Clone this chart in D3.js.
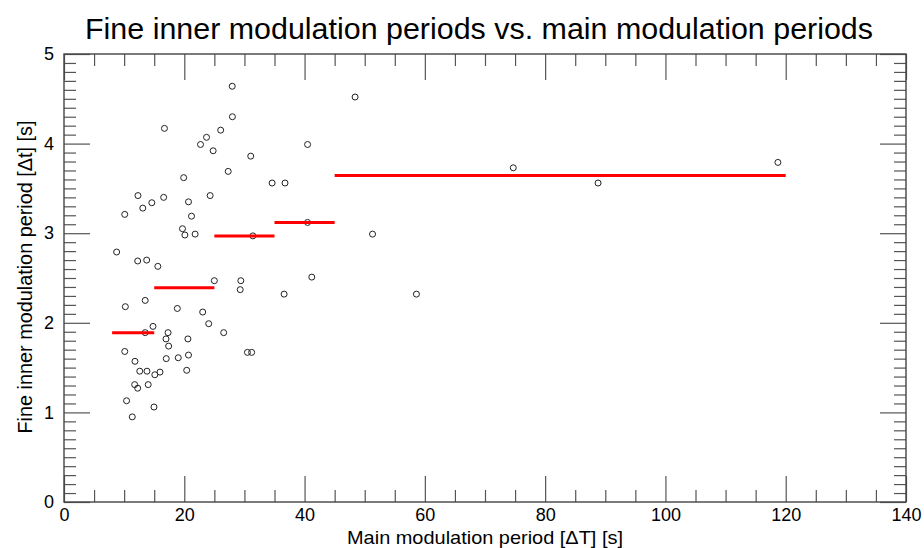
<!DOCTYPE html>
<html>
<head>
<meta charset="utf-8">
<script src="https://cdn.jsdelivr.net/npm/d3@7"></script>
<style>
  html, body { margin: 0; padding: 0; background: #fff; }
  svg { display: block; font-family: "Liberation Sans", Arial, Helvetica, sans-serif; }
</style>
</head>
<body>
<svg id="chart" width="924" height="548"></svg>
<script>
// Data: main modulation period (x) and fine inner modulation period (y)
const mainPeriod = [
  27.97, 28.0, 16.7, 26.05, 23.7, 22.7, 24.8, 31.05, 19.9, 27.3,
  12.3, 13.1, 14.6, 16.57, 20.7, 24.3, 10.1, 21.2, 19.7, 20.1,
  21.8, 31.4, 8.75, 12.25, 13.75, 15.6, 25.0, 29.4, 29.3, 13.5,
  10.2, 18.84, 23.06, 24.06, 14.8, 17.3, 26.55, 13.5, 16.96, 20.6,
  17.4, 10.1, 30.5, 31.2, 11.8, 17.0, 19.0, 20.7, 12.6, 13.8,
  15.96, 15.1, 20.4, 11.75, 12.25, 14.0, 10.4, 14.96, 11.35, 48.4,
  40.5, 34.6, 36.75, 40.5, 51.3, 41.2, 36.6, 74.7, 58.6, 88.8,
  118.7
];
const finePeriod = [
  4.64, 4.30, 4.17, 4.15, 4.07, 3.99, 3.92, 3.86, 3.62, 3.69,
  3.42, 3.28, 3.34, 3.40, 3.35, 3.42, 3.21, 3.19, 3.05, 2.98,
  2.99, 2.97, 2.79, 2.69, 2.70, 2.63, 2.47, 2.47, 2.37, 2.25,
  2.18, 2.16, 2.12, 1.99, 1.96, 1.89, 1.89, 1.89, 1.82, 1.82,
  1.74, 1.68, 1.67, 1.67, 1.57, 1.60, 1.61, 1.64, 1.46, 1.46,
  1.45, 1.42, 1.47, 1.31, 1.27, 1.31, 1.13, 1.06, 0.95, 4.52,
  3.99, 3.56, 3.56, 3.12, 2.99, 2.51, 2.32, 3.73, 2.32, 3.56,
  3.79
];
// Binned averages (red horizontal segments)
const binStart = [8, 15, 25, 35, 45];
const binEnd   = [15, 25, 35, 45, 120];
const binMean  = [1.89, 2.39, 2.97, 3.12, 3.645];

const xMajorTicks = [0, 20, 40, 60, 80, 100, 120, 140];
const yMajorTicks = [0, 1, 2, 3, 4, 5];

const titleText = "Fine inner modulation periods vs. main modulation periods";
const xLabelText = "Main modulation period [\u0394T] [s]";
const yLabelText = "Fine inner modulation period [\u0394t] [s]";

const svg = d3.select("#chart");
const L = 64, R = 906, T = 54, B = 502;

const x = d3.scaleLinear().domain([0, 140]).range([L, R]);
const y = d3.scaleLinear().domain([0, 5]).range([B, T]);

const xMinor = d3.range(0, 141, 5).filter(v => v % 20 !== 0);
const yMinor = d3.range(0, 51, 1).map(v => v / 10).filter((v, i) => i % 10 !== 0);

const tickColor = "#555";
const majorLen = 26, minorLen = 12;

function styleAxis(g) {
  g.select(".domain").remove();
  g.selectAll(".tick line").attr("stroke", tickColor).attr("stroke-width", 1.2);
  g.selectAll(".tick text").attr("fill", "#000").style("font-size", "18px")
    .style("font-family", "'Liberation Sans', Arial, sans-serif");
}

// Bottom
svg.append("g").attr("transform", `translate(0,${B})`)
  .call(d3.axisBottom(x).tickValues(xMajorTicks).tickSize(-majorLen).tickPadding(6).tickFormat(d3.format("d")))
  .call(styleAxis);
svg.append("g").attr("transform", `translate(0,${B})`)
  .call(d3.axisBottom(x).tickValues(xMinor).tickSize(-minorLen).tickFormat(""))
  .call(styleAxis);
// Top
svg.append("g").attr("transform", `translate(0,${T})`)
  .call(d3.axisTop(x).tickValues(xMajorTicks).tickSize(-majorLen).tickFormat(""))
  .call(styleAxis);
svg.append("g").attr("transform", `translate(0,${T})`)
  .call(d3.axisTop(x).tickValues(xMinor).tickSize(-minorLen).tickFormat(""))
  .call(styleAxis);
// Left
svg.append("g").attr("transform", `translate(${L},0)`)
  .call(d3.axisLeft(y).tickValues(yMajorTicks).tickSize(-majorLen).tickPadding(10).tickFormat(d3.format("d")))
  .call(styleAxis);
svg.append("g").attr("transform", `translate(${L},0)`)
  .call(d3.axisLeft(y).tickValues(yMinor).tickSize(-minorLen).tickFormat(""))
  .call(styleAxis);
// Right
svg.append("g").attr("transform", `translate(${R},0)`)
  .call(d3.axisRight(y).tickValues(yMajorTicks).tickSize(-majorLen).tickFormat(""))
  .call(styleAxis);
svg.append("g").attr("transform", `translate(${R},0)`)
  .call(d3.axisRight(y).tickValues(yMinor).tickSize(-minorLen).tickFormat(""))
  .call(styleAxis);

// Frame
svg.append("rect").attr("x", L).attr("y", T).attr("width", R - L).attr("height", B - T)
  .attr("fill", "none").attr("stroke", "#444").attr("stroke-width", 1.4);

// Points
const pts = mainPeriod.map((v, i) => ({ x: v, y: finePeriod[i] }));
svg.append("g").selectAll("circle").data(pts).join("circle")
  .attr("cx", d => x(d.x)).attr("cy", d => y(d.y)).attr("r", 3)
  .attr("fill", "none").attr("stroke", "#222").attr("stroke-width", 1);

// Red bin lines
const bins = binStart.map((s, i) => ({ s, e: binEnd[i], m: binMean[i] }));
svg.append("g").selectAll("line").data(bins).join("line")
  .attr("x1", d => x(d.s)).attr("x2", d => x(d.e))
  .attr("y1", d => y(d.m)).attr("y2", d => y(d.m))
  .attr("stroke", "#ff0000").attr("stroke-width", 3);

// Title
svg.append("text").attr("x", 479).attr("y", 39).attr("text-anchor", "middle")
  .style("font-size", "30px").attr("fill", "#000")
  .attr("textLength", 788).attr("lengthAdjust", "spacingAndGlyphs").text(titleText);
// X label
svg.append("text").attr("x", (L + R) / 2).attr("y", 544).attr("text-anchor", "middle")
  .style("font-size", "19px").attr("fill", "#000")
  .attr("textLength", 276).attr("lengthAdjust", "spacingAndGlyphs").text(xLabelText);
// Y label
svg.append("text").attr("transform", `translate(32,277) rotate(-90)`)
  .attr("text-anchor", "middle").style("font-size", "19.5px").attr("fill", "#000")
  .attr("textLength", 313).attr("lengthAdjust", "spacingAndGlyphs").text(yLabelText);
</script>
</body>
</html>
